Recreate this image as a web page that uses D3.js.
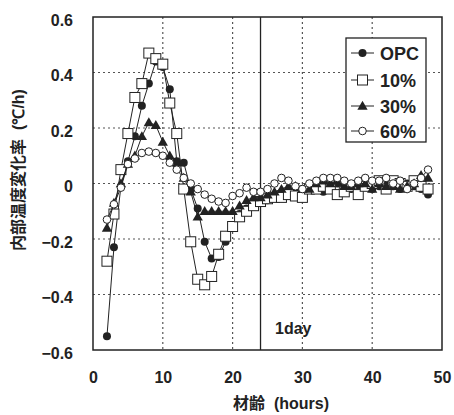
<!DOCTYPE html>
<html>
<head>
<meta charset="utf-8">
<script src="https://cdn.jsdelivr.net/npm/d3@7"></script>
<style>
  body { margin: 0; background: #fff; }
  text { font-family: "Liberation Sans", Arial, sans-serif; font-weight: bold; fill: #222; }
  .jp { font-family: "Noto Sans CJK JP", sans-serif; }
</style>
</head>
<body>
<svg id="chart" width="454" height="415"></svg>
<script>
// hours since casting, one reading per hour
var hours = d3.range(2, 49);

var opc = [-0.55, -0.23, -0.01, 0.08, 0.17, 0.28, 0.36, 0.44, 0.42, 0.34,
  0.08, 0.075, -0.02, -0.09, -0.21, -0.27, -0.265, -0.21, -0.15, -0.11,
  -0.09, -0.08, -0.07, -0.06, -0.05, -0.04, -0.03, -0.03, -0.02, -0.01,
  -0.02, -0.03, -0.01, 0.0, -0.01, -0.02, -0.01, -0.01, -0.02, -0.01,
  0.0, -0.01, -0.02, 0.0, -0.01, -0.02, -0.04];
var p10 = [-0.28, -0.11, 0.05, 0.18, 0.31, 0.36, 0.47, 0.45, 0.43, 0.29,
  0.18, -0.02, -0.21, -0.345, -0.365, -0.335, -0.255, -0.19, -0.155, -0.12,
  -0.10, -0.08, -0.065, -0.055, -0.05, -0.05, -0.04, -0.045, -0.05, -0.02,
  -0.02, -0.01, -0.02, -0.04, -0.03, -0.01, -0.04, -0.01, 0.0, 0.01,
  -0.02, 0.01, 0.0, -0.01, 0.01, -0.01, -0.02];
var p30 = [-0.16, -0.07, 0.0, 0.07, 0.1, 0.17, 0.22, 0.21, 0.15, 0.1,
  0.075, 0.02, -0.03, -0.12, -0.1, -0.1, -0.1, -0.1, -0.1, -0.08,
  -0.06, -0.05, -0.05, -0.04, -0.03, -0.02, -0.01, -0.01, -0.02, -0.02,
  0.0, 0.01, 0.0, 0.01, -0.01, -0.01, 0.0, 0.0, -0.02, 0.0,
  -0.01, -0.01, -0.02, -0.01, 0.0, 0.03, 0.02];
var p60 = [-0.13, -0.075, -0.015, 0.07, 0.09, 0.11, 0.115, 0.11, 0.10, 0.075,
  0.05, 0.02, 0.0, -0.02, -0.04, -0.055, -0.065, -0.07, -0.045, -0.035,
  -0.015, -0.03, -0.03, -0.02, 0.0, 0.02, 0.01, -0.01, -0.02, 0.0,
  0.01, 0.02, 0.02, 0.02, 0.01, 0.0, 0.01, 0.02, 0.01, 0.01,
  0.02, 0.0, 0.01, -0.02, 0.0, 0.02, 0.05];

var seriesNames = ['OPC', '10%', '30%', '60%'];
var seriesValues = [opc, p10, p30, p60];
var xTicks = [0, 10, 20, 30, 40, 50];
var yTicks = [-0.6, -0.4, -0.2, 0, 0.2, 0.4, 0.6];

var svg = d3.select('#chart'),
    plotLeft = 93, plotRight = 442, plotTop = 17, plotBottom = 350,
    ink = '#222';

var x = d3.scaleLinear().domain([0, 50]).range([plotLeft, plotRight]),
    y = d3.scaleLinear().domain([-0.6, 0.6]).range([plotBottom, plotTop]);

// dotted grid
svg.append('g')
  .selectAll('line')
  .data(xTicks.slice(1, -1))
  .enter().append('line')
    .attr('x1', d => x(d)).attr('x2', d => x(d))
    .attr('y1', plotTop).attr('y2', plotBottom)
    .attr('stroke', '#555').attr('stroke-width', 1.2)
    .attr('stroke-dasharray', '2,3');
svg.append('g')
  .selectAll('line')
  .data(yTicks.slice(1, -1))
  .enter().append('line')
    .attr('x1', plotLeft).attr('x2', plotRight)
    .attr('y1', d => y(d)).attr('y2', d => y(d))
    .attr('stroke', '#555').attr('stroke-width', 1.2)
    .attr('stroke-dasharray', '2,3');

// 1 day marker
svg.append('line')
  .attr('x1', x(24)).attr('x2', x(24))
  .attr('y1', plotTop).attr('y2', plotBottom)
  .attr('stroke', ink).attr('stroke-width', 1.3);
svg.append('text')
  .attr('x', 275).attr('y', 334)
  .attr('font-size', 16)
  .text('1day');

// axes: labels only, frame drawn below
var xAxis = d3.axisBottom(x).tickValues(xTicks).tickSize(0).tickPadding(22),
    yAxis = d3.axisLeft(y).tickValues(yTicks).tickSize(0).tickPadding(20)
      .tickFormat(d => d === 0 ? '0' : d.toFixed(1).replace('-', '\u2212'));
svg.append('g')
  .attr('transform', `translate(0, ${plotBottom})`)
  .call(xAxis)
  .call(g => g.select('.domain').remove())
  .selectAll('text')
    .attr('font-size', 16).attr('fill', ink)
    .attr('font-family', '"Liberation Sans", Arial, sans-serif').attr('font-weight', 'bold');
svg.append('g')
  .attr('transform', `translate(${plotLeft}, 3)`)
  .call(yAxis)
  .call(g => g.select('.domain').remove())
  .selectAll('text')
    .attr('font-size', 16).attr('fill', ink)
    .attr('font-family', '"Liberation Sans", Arial, sans-serif').attr('font-weight', 'bold');

svg.append('rect')
  .attr('x', plotLeft).attr('y', plotTop)
  .attr('width', plotRight - plotLeft).attr('height', plotBottom - plotTop)
  .attr('fill', 'none').attr('stroke', ink).attr('stroke-width', 1.5);

// axis titles
svg.append('text')
  .attr('x', 281).attr('y', 409)
  .attr('text-anchor', 'middle')
  .attr('font-size', 16)
  .html('<tspan class="jp">材齢</tspan><tspan dx="9">(hours)</tspan>');
svg.append('text')
  .attr('transform', 'translate(24, 170) rotate(-90)')
  .attr('text-anchor', 'middle')
  .attr('font-size', 16)
  .html('<tspan class="jp">内部温度変化率</tspan><tspan dx="9">(℃/h)</tspan>');

function drawMarker(g, idx, cx, cy) {
  if (idx === 0) {
    g.append('circle').attr('cx', cx).attr('cy', cy).attr('r', 4).attr('fill', ink);
  } else if (idx === 1) {
    g.append('rect').attr('x', cx - 5).attr('y', cy - 5).attr('width', 10).attr('height', 10)
      .attr('fill', '#fff').attr('stroke', ink).attr('stroke-width', 1);
  } else if (idx === 2) {
    g.append('path').attr('d', d3.symbol(d3.symbolTriangle, 46)())
      .attr('transform', `translate(${cx}, ${cy + 0.8})`).attr('fill', ink);
  } else {
    g.append('circle').attr('cx', cx).attr('cy', cy).attr('r', 3.8)
      .attr('fill', '#fff').attr('stroke', ink).attr('stroke-width', 1);
  }
}

var line = d3.line().x((d, i) => x(hours[i])).y(d => y(d));

seriesValues.forEach(function (values, idx) {
  var g = svg.append('g').classed('series', true);
  g.append('path')
    .attr('d', line(values))
    .attr('fill', 'none').attr('stroke', ink).attr('stroke-width', 1);
  values.forEach(function (v, i) {
    drawMarker(g, idx, x(hours[i]), y(v));
  });
});

// legend
var legend = svg.append('g').attr('transform', 'translate(346, 38)');
legend.append('rect')
  .attr('width', 80).attr('height', 104)
  .attr('fill', '#fff').attr('stroke', ink).attr('stroke-width', 1.3);
var rowY = [15, 42, 68, 93];
seriesNames.forEach(function (name, idx) {
  var row = legend.append('g').attr('transform', `translate(0, ${rowY[idx]})`);
  row.append('line').attr('x1', 5).attr('x2', 28).attr('y1', 0).attr('y2', 0)
    .attr('stroke', ink).attr('stroke-width', 1);
  drawMarker(row, idx, 16.5, 0);
  row.append('text').attr('x', 34).attr('y', 6.5).attr('font-size', 18).text(name);
});
</script>
</body>
</html>
